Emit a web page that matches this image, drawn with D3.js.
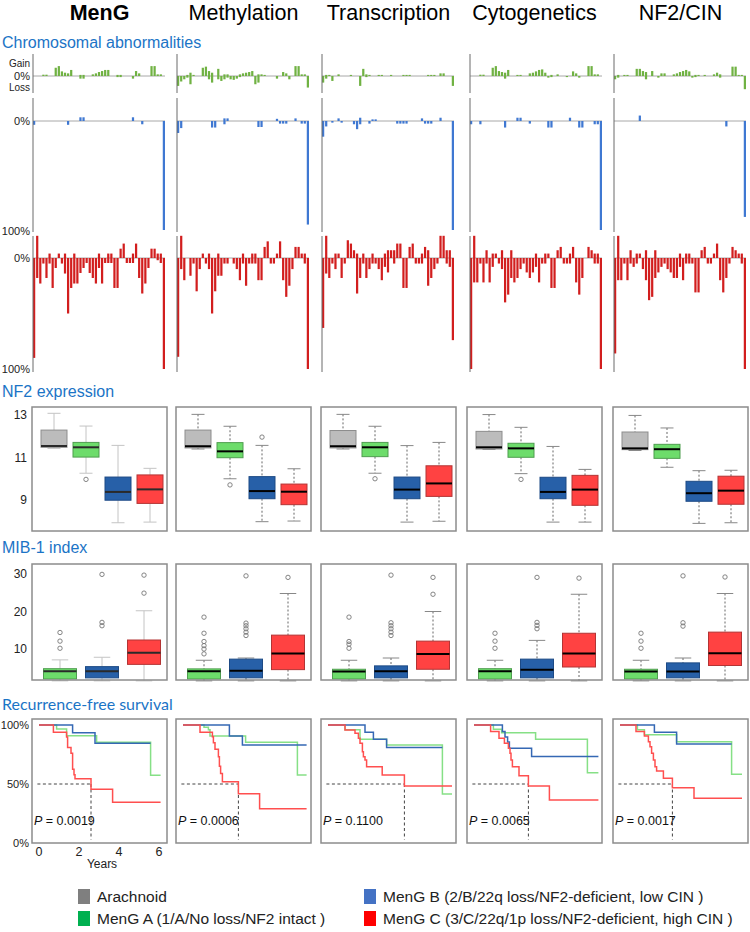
<!DOCTYPE html>
<html>
<head>
<meta charset="utf-8">
<script src="https://cdn.jsdelivr.net/npm/d3@7/dist/d3.min.js"></script>
<style>
html,body{margin:0;padding:0;background:#fff;}
svg{display:block;}
text{font-family:"Liberation Sans",Arial,Helvetica,sans-serif;}
</style>
</head>
<body>
<svg id="chart" width="750" height="932"></svg>
<script>
// ---------------- DATA ----------------
const methods = ["MenG","Methylation","Transcription","Cytogenetics","NF2/CIN"];
const sectionTitles = ["Chromosomal abnormalities","NF2 expression","MIB-1 index","Recurrence-free survival"];
const groupNames = ["Arachnoid","MenG A","MenG B","MenG C"];
const legendLabels = ["Arachnoid","MenG A (1/A/No loss/NF2 intact )","MenG B (2/B/22q loss/NF2-deficient, low CIN )","MenG C (3/C/22q/1p loss/NF2-deficient, high CIN )"];
const armCount = 43;

// Chromosome-arm gain / loss frequencies (%) per method, group A (green)
const chrGainA = [
 [0,0,0,1.2,1.2,0,0,7.5,9,4.2, 3,2.4,5.5,0,0,1,1,0,0,1.5, 2.4,3.6,4.5,5.5,5.5,0,0,1,1,0, 0,0,0,4.5,2.4,0,0,0,9,9, 1.5,1.5,0],
 [0,0,0,1,3,1,0,0,7.5,8.5, 4.5,3,0,6.5,0,1.5,1.5,0,0,0, 1.5,2.4,3,3.6,4.5,0,1.5,1.5,1,0, 0,0,0,0,3.6,2.4,0,0,9,9, 1.5,1.5,0],
 [0,1,1,0,0,1.5,0,0,0,1, 0,0,0,6.5,1.5,1,0,0,1,1, 0,0,1,0,0,0,1,1,1,0, 0,0,0,0,1,1,1,0,2.4,2.4, 0,0,0],
 [0,0,0,1.2,1.2,0,0,7.5,9,4.5, 3.6,3,5.5,0,0,1,1,0,0,2.4, 3,4.2,5.5,6,3,0,1,0,1.5,0, 0,0,0,4.2,2.4,0,0,0,9,9, 1.5,1.5,0],
 [0,1,0,1,1,0,0,6.5,6.5,4.5, 3.6,0,4.5,0,0,2.4,2.4,0,0,1.5, 2.4,3.6,4.5,5.5,4.2,0,1,1,0,1, 0,0,1.5,3,1.5,0,0,0,8.5,8.5, 1,1,0]
];
const chrLossA = [
 [0,0,0,0,0,0,0,0,0,0, 0,0,0,0,0,2.4,2.4,0,0,0, 0,0,0,0,0,0,0,1,1,0, 0,0,2.4,0,0,0,0,0,0,0, 0,0,0],
 [9,5,3,1.5,7.5,0,0,0,0,0, 3,6,0,3,4.5,3,1.5,3,3.5,2.4, 1,0,0,0,0,7.5,6,0,0,0, 0,0,2.4,0,0,0,3,0,0,0, 0,0,10.5],
 [6,2.4,0,4.5,0,0,0,0,0,0, 0,0,9,0,1,0,0,0,0,0, 0,0,0,0,0,0,0,0,0,0, 0,0,0,0,0,0,0,0,0,0, 0,0,9],
 [0,0,0,0,0,0,0,0,0,0, 0,2.4,0,0,0,0,0,0,0,0, 0,0,0,0,0,1.5,1,0,0,0, 0,1,0,0,0,1.5,0,0,0,0, 0,0,0],
 [3,1.5,0,0,0,0,0,0,0,0, 3,0,0,0,1.5,0,0,0,0,0, 0,0,0,0,0,1.5,1,0,0,0, 0,0,0,0,1.5,0,0,0,0,0, 0,0,12]
];
// group B (blue)
const chrGainB = [
 [0,0,0,0,0,0,0,0,0,0, 0,0,0,0,0,3.4,3.4,0,0,0, 0,0,0,0,0,0,0,0,0,0, 0,0,3.4,0,0,0,0,0,0,0, 0,0,0],
 [0,0,0,0,0,0,0,0,0,0, 0,0,0,0,0,2.4,2.4,0,0,0, 0,0,0,0,0,0,0,0,0,0, 0,0,2,0,0,0,0,0,2.4,0, 0,0,0],
 [0,0,0,0,0,2.4,0,0,0,0, 0,0,3,0,0,0,1.5,1.5,0,0, 0,0,0,0,0,0,0,0,0,0, 0,0,2.4,0,0,0,0,0,3,0, 0,0,0],
 [0,0,0,0,0,0,0,0,0,0, 0,0,0,0,0,3,3,0,0,0, 0,0,0,0,0,0,0,0,0,0, 0,0,3,0,0,0,0,0,0,0, 0,0,0],
 [0,0,0,0,0,0,0,0,5,0, 0,0,0,0,0,0,0,0,0,0, 0,0,0,0,0,0,0,0,0,0, 0,0,0,0,0,0,0,0,0,0, 0,0,0]
];
const chrLossB = [
 [3.5,0,0,0,0,0,0,0,0,0, 0,3.5,0,0,0,0,0,0,0,0, 0,0,0,0,0,0,0,0,0,0, 0,0,0,0,0,3,0,0,0,0, 0,0,100],
 [11,6.5,0,0,0,0,0,0,0,0, 0,6,6,0,0,3,0,0,0,0, 0,0,0,0,0,0,5.5,5.5,0,0, 0,0,0,2.4,2.4,2.4,0,0,0,0, 2.4,2.4,95],
 [14.4,5,0,1.5,0,0,1.5,0,0,0, 3,7.5,3,0,0,2.4,0,0,0,0, 0,0,0,0,2.4,2.4,2.4,2.4,0,0, 0,0,0,2.4,2.4,2.4,0,0,0,0, 0,0,100],
 [3,0,0,3,0,0,0,0,0,0, 0,6,0,0,0,0,0,0,0,2.4, 0,0,0,0,0,6,6,0,0,0, 0,0,0,0,0,6,6,0,0,0, 3,3,100],
 [0,0,0,0,0,0,0,0,0,0, 0,0,0,0,0,0,0,0,0,0, 0,0,0,0,0,0,0,0,0,0, 0,0,0,0,0,0,5,0,0,0, 0,0,88]
];
// group C (red)
const chrGainC = [
 [0,20,0,0,0,4,0,0,4,0, 4,0,0,4,0,0,0,0,0,0, 0,4,0,0,4,4,0,0,8.4,13, 0,0,4,13,0,0,0,0,8.4,8.4, 4,4,0],
 [0,20,0,0,0,0,0,0,4,0, 4,0,0,4,0,0,0,0,0,0, 0,4,0,0,4,4,0,0,10,15, 0,0,4,15,0,0,0,0,10,10, 4,4,0],
 [0,20,0,0,4,4,0,0,16,13, 7,4,0,4,0,0,4,0,0,0, 4,7,7,7,13,13,0,0,10,13, 0,0,4,10,7,0,0,0,20,20, 7,7,0],
 [0,20,0,0,0,7,0,4,4,0, 7,0,0,7,0,0,0,0,0,0, 0,4,0,0,4,4,0,0,7,10, 0,0,4,10,0,0,0,0,10,7, 4,4,0],
 [0,20,0,0,0,7,0,4,4,0, 7,0,0,7,0,0,0,0,0,0, 0,4,0,4,4,0,0,0,7,10, 0,0,4,13,0,0,0,0,10,7, 4,4,0]
];
const chrLossC = [
 [90,18,23,5,18,5,27,9,0,5, 14,50,27,23,23,13.5,9,4.5,13.5,18, 23,9,23,4.5,4.5,4.5,27,27,0,0, 4.5,4.5,4.5,0,18,32,23,9,0,0, 2,4.5,100],
 [89,10,20,0,16,5,30,10,0,5, 10,50,30,16,16,5,5,0,5,10, 20,5,25,5,5,5,20,20,0,0, 5,5,0,0,20,35,25,10,0,0, 0,5,100],
 [63,14,18,5,10,0,18,5,0,0, 0,32,18,5,18,10,5,5,10,20, 8,13,0,5,0,0,27,27,0,0, 5,5,5,0,25,18,10,5,0,0, 5,8,74],
 [100,22,22,5,22,5,22,8,0,5, 10,40,33,18,22,18,10,5,13,18, 13,8,22,5,5,0,27,27,0,0, 5,5,5,0,22,33,18,0,0,0, 5,5,100],
 [86,20,20,5,20,5,8,5,0,10, 20,38,35,18,13,8,5,10,13,18, 18,8,20,5,5,5,31,31,0,0, 5,5,0,0,20,31,18,5,0,0, 0,5,100]
];

// NF2 expression: [lower whisker, Q1, median, Q3, upper whisker] per method
const nf2Arachnoid = [[11.43,11.48,11.54,12.29,13.08],[11.40,11.45,11.53,12.29,13.03],[11.40,11.45,11.53,12.27,13.03],[11.38,11.40,11.48,12.23,13.02],[11.33,11.37,11.43,12.20,12.98]];
const nf2A = [[10.26,11.02,11.48,11.71,12.48],[10.00,10.99,11.29,11.70,12.47],[10.26,11.04,11.48,11.71,12.47],[10.24,11.01,11.43,11.67,12.42],[10.54,10.96,11.39,11.62,12.39]];
const nf2B = [[7.93,8.99,9.38,10.08,11.57],[7.98,9.06,9.42,10.10,11.57],[7.96,9.06,9.49,10.08,11.56],[7.96,9.06,9.38,10.07,11.52],[7.90,8.94,9.32,9.88,10.38]];
const nf2C = [[7.96,8.84,9.50,10.18,10.49],[8.01,8.78,9.39,9.75,10.47],[8.00,9.17,9.78,10.61,11.71],[7.96,8.75,9.49,10.16,10.44],[7.93,8.80,9.44,10.12,10.40]];
const nf2OutArachnoid = [[],[],[],[],[]];
const nf2OutA = [[9.97],[9.71],[10.0],[9.97],[]];
const nf2OutB = [[],[11.96],[],[],[]];
const nf2OutC = [[],[],[],[],[]];
const nf2Ticks = [13, 11, 9];

// MIB-1 index
const mibA = [[1.5,2.0,4.1,4.75,7.1],[1.5,2.0,4.1,4.7,7.0],[1.5,2.0,4.0,4.6,7.0],[1.5,2.0,4.1,4.75,7.0],[1.5,2.0,4.0,4.6,7.0]];
const mibB = [[1.5,2.3,4.1,5.3,7.8],[1.5,2.3,4.2,7.3,7.6],[1.5,2.3,4.1,5.5,7.6],[1.5,2.3,4.5,7.3,12.3],[1.5,2.3,4.0,6.3,7.6]];
const mibC = [[1.5,5.9,9.0,12.4,20.2],[1.5,4.5,8.8,13.7,24.8],[1.5,4.6,8.7,12.1,20.0],[1.5,5.2,8.8,14.2,24.6],[1.5,5.6,8.9,14.5,24.8]];
const mibOutA = [[10.2,12.1,14.4],[8.7,10.0,10.9,12.0,14.2,18.5],[10.2,11.3,12.0,18.5],[10.2,12.1,14.2],[10.2,12.1,14.2]];
const mibOutB = [[16.2,17.1,29.9],[13.6,14.5,15.4,16.2,16.9,29.5],[13.6,14.5,15.4,16.2,17.0,29.7],[15.4,16.3,17.1,29.1],[16.1,17.0,29.5]];
const mibOutC = [[24.9,29.7],[29.1],[24.6,29.1],[28.9],[29.2]];
const mibTicks = [30, 20, 10];

// Recurrence-free survival step curves: [years, % free]
const rfsA = [
 [[0,100],[0.88,96.6],[1.38,90.9],[2.88,85.3],[5.58,57.4],[6.08,57.4]],
 [[0,100],[1.05,98],[1.27,96],[1.35,90.7],[3.13,85.3],[5.72,57.6],[6.18,57.6]],
 [[0,100],[0.85,96],[1.6,87.9],[2.93,83],[5.72,41.5],[6.2,41.5]],
 [[0,100],[0.97,96.3],[1.38,93.5],[3.08,88],[5.67,59.6],[6.22,59.6]],
 [[0,100],[0.87,96],[1.22,91.8],[2.83,85.8],[5.58,58.2],[6.1,58.2]]
];
const rfsB = [
 [[0,100],[1.68,93.5],[2.8,84.5],[5.58,84.5]],
 [[0,100],[2.32,90.7],[2.97,83],[6.18,83]],
 [[0,100],[1.85,93.8],[2.27,88],[2.93,81],[5.72,81]],
 [[0,100],[1.42,94.4],[1.55,89.8],[1.68,85.6],[1.77,80.2],[2.88,73.4],[6.22,73.4]],
 [[0,100],[1.72,93.8],[2.83,83.9],[5.58,83.9]]
];
const rfsC = [
 [[0,100],[0.72,93.8],[1.38,89.8],[1.43,81],[1.6,76],[1.68,62.4],[1.75,57.9],[1.8,54.5],[2.6,45.5],[3.68,34.5],[6.08,34.5]],
 [[0,100],[0.85,93.8],[1.47,90],[1.52,85],[1.6,79.4],[1.77,73],[1.82,65],[1.88,59],[1.97,52],[2.77,41.8],[3.83,29],[6.18,29]],
 [[0,100],[0.85,95.8],[1.35,93],[1.52,88.7],[1.6,84.5],[1.72,77.4],[1.77,73.1],[1.85,70.3],[1.93,64.7],[2.71,57.6],[3.82,48.3],[6.2,48.3]],
 [[0,100],[0.83,94.4],[1.25,88.7],[1.52,84.5],[1.72,80.2],[1.8,76],[1.85,70.3],[1.92,64.7],[2.25,57],[2.72,48.3],[3.77,36.4],[6.22,36.4]],
 [[0,100],[0.8,94.4],[1.22,90.7],[1.42,85.9],[1.5,81.6],[1.58,76],[1.67,70.3],[1.75,64.7],[1.83,61],[2.17,54.8],[2.62,46.9],[3.7,37.9],[6.1,37.9]]
];
const rfsMedianC = [2.6, 2.77, 3.82, 2.72, 2.62];
const pValues = ["0.0019","0.0006","0.1100","0.0065","0.0017"];
const rfsYTicks = [100, 50, 0];
const rfsXTicks = [0, 2, 4, 6];

// ---------------- LAYOUT / STYLE ----------------
const svg = d3.select("#chart");
const colLeft = [32, 176, 321, 467, 613];
const chrAxisX = [33, 177, 322, 470, 614];
const PW = 135;
const titleBlue = "#1b74c6";
const frameColor = "#8c8c8c";

// column titles
svg.selectAll("text.coltitle").data(methods).join("text")
  .attr("class","coltitle")
  .attr("x",(d,i)=>colLeft[i]+PW/2).attr("y",20)
  .attr("text-anchor","middle").attr("font-size",21.5)
  .attr("font-weight",(d,i)=>i===0?"bold":"normal")
  .attr("fill","#000").text(d=>d);

// section titles
const secY = [48, 397, 553, 710];
svg.selectAll("text.sec").data(sectionTitles).join("text")
  .attr("class","sec")
  .attr("x",2).attr("y",(d,i)=>secY[i])
  .attr("font-size",16)
  .style("font-family",(d,i)=>i===3?"Lato, 'Open Sans', sans-serif":null)
  .attr("fill",titleBlue).text(d=>d);

// ---------------- CHROMOSOMAL ABNORMALITIES ----------------
const xArm = d3.scaleBand().domain(d3.range(armCount)).range([0,132]).paddingInner(0.28);
const chrRows = [
  {gain:chrGainA, loss:chrLossA, color:"#70b243", y:d3.scaleLinear().domain([-100,100]).range([186,-34]), top:54, bottom:93,
   labels:[["Gain",63,10],["0%",76,11],["Loss",87,10]]},
  {gain:chrGainB, loss:chrLossB, color:"#3f78d2", y:d3.scaleLinear().domain([-100,0]).range([230,121]), top:98, bottom:232,
   labels:[["0%",121,11],["100%",231,11]]},
  {gain:chrGainC, loss:chrLossC, color:"#d21e1e", y:d3.scaleLinear().domain([-100,0]).range([369,258]), top:236, bottom:372,
   labels:[["0%",258,11],["100%",369,11]]}
];
chrRows.forEach(row=>{
  svg.selectAll(null).data(row.labels).join("text")
    .attr("x",30).attr("y",d=>d[1]).attr("dy","0.35em")
    .attr("text-anchor","end").attr("font-size",d=>d[2]).attr("fill","#222").text(d=>d[0]);
  methods.forEach((m,c)=>{
    const g = svg.append("g").attr("transform",`translate(${chrAxisX[c]},0)`);
    const y0 = row.y(0);
    g.append("line").attr("x1",0).attr("x2",132).attr("y1",y0).attr("y2",y0)
      .attr("stroke","#a8a8a8").attr("stroke-width",1);
    const gd = row.gain[c].map((v,i)=>({v,i})).filter(d=>d.v>0);
    const ld = row.loss[c].map((v,i)=>({v,i})).filter(d=>d.v>0);
    g.selectAll("rect.g").data(gd).join("rect").attr("class","g")
      .attr("x",d=>xArm(d.i)).attr("width",xArm.bandwidth())
      .attr("y",d=>row.y(d.v)).attr("height",d=>y0-row.y(d.v)).attr("fill",row.color);
    g.selectAll("rect.l").data(ld).join("rect").attr("class","l")
      .attr("x",d=>xArm(d.i)).attr("width",xArm.bandwidth())
      .attr("y",y0).attr("height",d=>row.y(-d.v)-y0).attr("fill",row.color);
    g.append("line").attr("x1",0).attr("x2",0).attr("y1",row.top).attr("y2",row.bottom)
      .attr("stroke","#6a6a6a").attr("stroke-width",1);
  });
});

// ---------------- BOXPLOTS ----------------
const boxFill = {"Arachnoid":"#bcbcbc","MenG A":"#6ddc6b","MenG B":"#2760a8","MenG C":"#ff4242"};
const boxStroke = {"Arachnoid":"#8d8d8d","MenG A":"#4f9d4f","MenG B":"#1d4a85","MenG C":"#b33434"};

function drawBoxPanel(c, top, height, yScale, groups, stats, outs, xOff, step, boxW){
  const L = colLeft[c];
  const xb = d3.scaleBand().domain(groups).range([L+xOff, L+xOff+step*groups.length]);
  const g = svg.append("g");
  const solid = c===0;
  groups.forEach((gr,gi)=>{
    const s = stats[gi][c];
    const cx = xb(gr)+xb.bandwidth()/2;
    const wStroke = solid ? "#c4c4c4" : "#666";
    const dash = solid ? null : "2,2";
    g.append("line").attr("x1",cx).attr("x2",cx).attr("y1",yScale(s[4])).attr("y2",yScale(s[3]))
      .attr("stroke",wStroke).attr("stroke-dasharray",dash);
    g.append("line").attr("x1",cx).attr("x2",cx).attr("y1",yScale(s[1])).attr("y2",yScale(s[0]))
      .attr("stroke",wStroke).attr("stroke-dasharray",dash);
    [s[0],s[4]].forEach(v=>{
      g.append("line").attr("x1",cx-boxW/4).attr("x2",cx+boxW/4).attr("y1",yScale(v)).attr("y2",yScale(v))
        .attr("stroke",solid?"#c4c4c4":"#888");
    });
    g.append("rect").attr("x",cx-boxW/2).attr("width",boxW)
      .attr("y",yScale(s[3])).attr("height",yScale(s[1])-yScale(s[3]))
      .attr("fill",boxFill[gr]).attr("stroke",boxStroke[gr]).attr("stroke-width",1);
    g.append("line").attr("x1",cx-boxW/2).attr("x2",cx+boxW/2).attr("y1",yScale(s[2])).attr("y2",yScale(s[2]))
      .attr("stroke",solid?"#2a2a2a":"#000").attr("stroke-width",2);
    g.selectAll(null).data(outs[gi][c]).join("circle")
      .attr("cx",cx).attr("cy",d=>yScale(d)).attr("r",2.2)
      .attr("fill","none").attr("stroke","#777").attr("stroke-width",0.9);
  });
  g.append("rect").attr("x",L).attr("y",top).attr("width",PW).attr("height",height)
    .attr("fill","none").attr("stroke",frameColor).attr("stroke-width",1.5);
}

// NF2 expression
const yNF2 = d3.scaleLinear().domain([9,13]).range([500,415]);
methods.forEach((m,c)=>drawBoxPanel(c, 407, 124, yNF2, groupNames,
  [nf2Arachnoid,nf2A,nf2B,nf2C],[nf2OutArachnoid,nf2OutA,nf2OutB,nf2OutC], 6, 32, 26));
svg.selectAll("text.nf2t").data(nf2Ticks).join("text").attr("class","nf2t")
  .attr("x",27).attr("y",d=>yNF2(d)).attr("dy","0.35em").attr("text-anchor","end")
  .attr("font-size",12).attr("fill","#222").text(d=>d);

// MIB-1
const yMIB = d3.scaleLinear().domain([10,30]).range([649,574]);
methods.forEach((m,c)=>drawBoxPanel(c, 564, 116, yMIB, groupNames.slice(1),
  [mibA,mibB,mibC],[mibOutA,mibOutB,mibOutC], 7, 42, 33));
svg.selectAll("text.mibt").data(mibTicks).join("text").attr("class","mibt")
  .attr("x",27).attr("y",d=>yMIB(d)).attr("dy","0.35em").attr("text-anchor","end")
  .attr("font-size",12).attr("fill","#222").text(d=>d);

// ---------------- SURVIVAL ----------------
const yS = d3.scaleLinear().domain([0,100]).range([843,725]);
const curveColors = ["#86e086","#3568b4","#ff4f4f"];
methods.forEach((m,c)=>{
  const L = colLeft[c];
  const xS = d3.scaleLinear().domain([0,6]).range([L+7, L+127]);
  const g = svg.append("g");
  const line = d3.line().x(d=>xS(d[0])).y(d=>yS(d[1])).curve(d3.curveStepAfter);
  g.append("line").attr("x1",xS(-0.08)).attr("x2",xS(rfsMedianC[c])).attr("y1",yS(50)).attr("y2",yS(50))
    .attr("stroke","#444").attr("stroke-dasharray","3,2.5");
  g.append("line").attr("x1",xS(rfsMedianC[c])).attr("x2",xS(rfsMedianC[c])).attr("y1",yS(50)).attr("y2",yS(3))
    .attr("stroke","#444").attr("stroke-dasharray","3,2.5");
  [rfsA,rfsB,rfsC].forEach((arr,k)=>{
    g.append("path").attr("d",line(arr[c])).attr("fill","none")
      .attr("stroke",curveColors[k]).attr("stroke-width",1.5);
  });
  const t = g.append("text").attr("x",L+2).attr("y",825).attr("font-size",12.5).attr("fill","#111");
  t.append("tspan").attr("font-style","italic").text("P");
  t.append("tspan").text(" = "+pValues[c]);
  g.append("rect").attr("x",L).attr("y",719).attr("width",PW).attr("height",124)
    .attr("fill","none").attr("stroke",frameColor).attr("stroke-width",1.5);
  if(c===0){
    svg.selectAll("text.sy").data(rfsYTicks).join("text").attr("class","sy")
      .attr("x",29).attr("y",d=>yS(d)).attr("dy","0.35em").attr("text-anchor","end")
      .attr("font-size",11).attr("fill","#222").text(d=>d+"%");
    svg.selectAll("text.sx").data(rfsXTicks).join("text").attr("class","sx")
      .attr("x",d=>xS(d)).attr("y",856).attr("text-anchor","middle")
      .attr("font-size",12.5).attr("fill","#222").text(d=>d);
    svg.append("text").attr("x",102).attr("y",868).attr("text-anchor","middle")
      .attr("font-size",12).attr("fill","#222").text("Years");
  }
});

// ---------------- LEGEND ----------------
const legendColors = ["#7f7f7f","#00b050","#4472c4","#ff0000"];
const legendPos = [[78,889],[78,911],[364,889],[364,911]];
const lg = svg.selectAll("g.leg").data(legendLabels).join("g").attr("class","leg")
  .attr("transform",(d,i)=>`translate(${legendPos[i][0]},${legendPos[i][1]})`);
lg.append("rect").attr("width",12).attr("height",15).attr("fill",(d,i)=>legendColors[i]);
lg.append("text").attr("x",19).attr("y",7.5).attr("dy","0.36em").attr("font-size",15.5)
  .attr("fill","#222").text(d=>d);
</script>
</body>
</html>
